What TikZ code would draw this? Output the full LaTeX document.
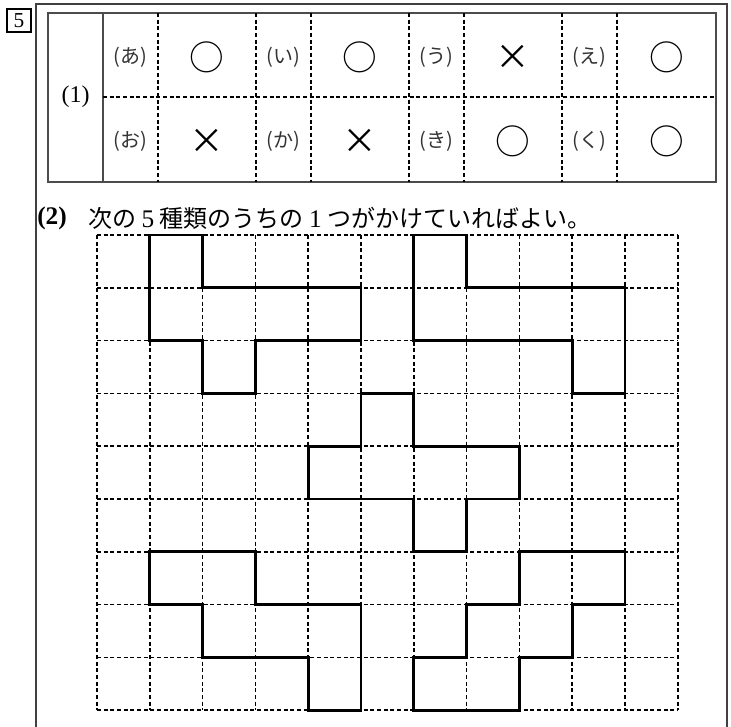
\documentclass[tikz,border=0pt]{standalone}
\usepackage{fontspec}
\setmainfont{Liberation Serif}
\newfontfamily\jp{Noto Sans CJK JP}
\begin{document}
\begin{tikzpicture}[x=0.75pt,y=-0.75pt,
  frameline/.style={line width=0.9pt,draw=black!75},
  tabline/.style={line width=0.8pt,draw=black!70},
  dashline/.style={line width=1.2pt,dash pattern=on 3pt off 2pt},
  piece/.style={line width=2.2pt,line join=miter},
  lab/.style={font=\jp\fontsize{15}{15}\selectfont,text=black!80,inner sep=0pt},
  sym/.style={font=\jp\fontsize{26}{26}\selectfont,inner sep=0pt}]
\useasboundingbox (0,0) rectangle (731,727);
% outer frame
\draw[frameline] (36,727) -- (36,4) -- (727,4) -- (727,727);
% number box
\draw[line width=0.8pt] (7,9) rectangle (31,32);
\node[font=\fontsize{16}{16}\selectfont,inner sep=0pt] (num) at (19,20.5) {5};
% table
\draw[tabline] (48,13) rectangle (716,182);
\draw[tabline] (103,13) -- (103,182);
\foreach \xx in {158,256,311,409,464,562,617}
  \draw[dashline] (\xx,13) -- (\xx,182);
\draw[dashline] (103,97) -- (716,97);
\node[font=\fontsize{18}{18}\selectfont,inner sep=0pt] (q1) at (75.5,97) {(1)};
\node[lab] (la) at (130.5,57) {(あ)};
\node[lab] (li) at (283.5,57) {(い)};
\node[lab] (lu) at (436.5,57) {(う)};
\node[lab] (le) at (589.5,57) {(え)};
\node[lab] (lo) at (130.5,141) {(お)};
\node[lab] (lk) at (283.5,141) {(か)};
\node[lab] (lki) at (436.5,141) {(き)};
\node[lab] (lku) at (589.5,141) {(く)};
\node[sym] (sa) at (207,57) {○};
\node[sym] (si) at (360,57) {○};
\node[sym] (su) at (513,57) {×};
\node[sym] (se) at (666.5,57) {○};
\node[sym] (so) at (207,141) {×};
\node[sym] (sk) at (360,141) {×};
\node[sym] (ski) at (513,141) {○};
\node[sym] (sku) at (666.5,141) {○};
% part (2)
\node[anchor=west,inner sep=0pt,font=\bfseries\fontsize{19}{19}\selectfont] (q2) at (37,218) {(2)};
\node[anchor=west,inner sep=0pt,font=\fontsize{18}{18}\selectfont] (txt) at (88,218)
  {\jp 次の {\rmfamily\fontsize{19}{19}\selectfont 5} 種類のうちの {\rmfamily\fontsize{19}{19}\selectfont 1} つがかけていればよい。};
\begin{scope}[shift={(97,235)},x=39.6pt,y=-39.6pt]
  \foreach \i in {0,...,11} \draw[dashline] (\i,0) -- (\i,9);
  \foreach \j in {0,...,9} \draw[dashline] (0,\j) -- (11,\j);
  \draw[piece] (1,0)--(2,0)--(2,1)--(5,1)--(5,2)--(3,2)--(3,3)--(2,3)--(2,2)--(1,2)--cycle;
  \draw[piece] (6,0)--(7,0)--(7,1)--(10,1)--(10,3)--(9,3)--(9,2)--(6,2)--cycle;
  \draw[piece] (5,3)--(6,3)--(6,4)--(8,4)--(8,5)--(7,5)--(7,6)--(6,6)--(6,5)--(4,5)--(4,4)--(5,4)--cycle;
  \draw[piece] (1,6)--(3,6)--(3,7)--(5,7)--(5,9)--(4,9)--(4,8)--(2,8)--(2,7)--(1,7)--cycle;
  \draw[piece] (8,6)--(10,6)--(10,7)--(9,7)--(9,8)--(8,8)--(8,9)--(6,9)--(6,8)--(7,8)--(7,7)--(8,7)--cycle;
\end{scope}
\end{tikzpicture}
\end{document}
